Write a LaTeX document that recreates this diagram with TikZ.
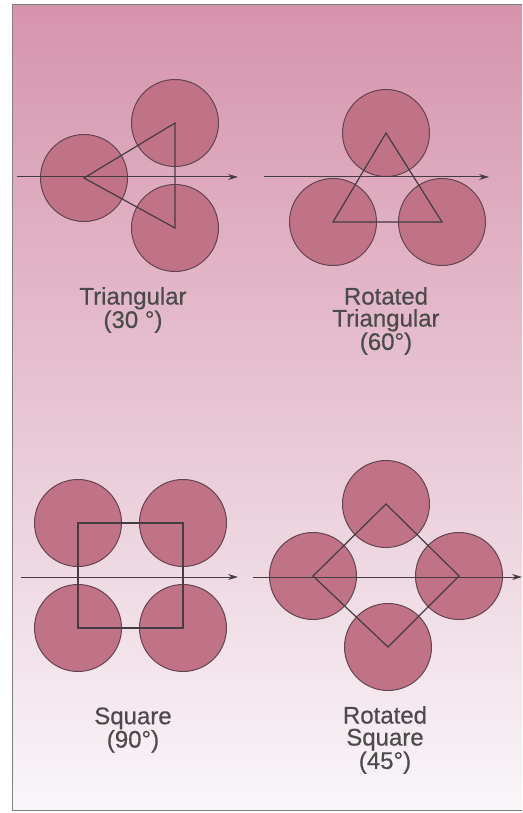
\documentclass[tikz,border=0pt]{standalone}
\usepackage{fontspec}
\setmainfont{Liberation Sans}
\newfontfamily\capfont[FakeBold=0.5]{Liberation Sans}
\usetikzlibrary{arrows.meta}
\definecolor{bgtop}{HTML}{D694AC}
\definecolor{bgmid}{HTML}{E6B8D0}
\definecolor{bgbot}{HTML}{F9F6F9}
\definecolor{disc}{HTML}{C07286}
\definecolor{discline}{HTML}{634452}
\definecolor{ink}{HTML}{453C44}
\definecolor{txt}{HTML}{4C4A4C}
\tikzset{
  ball/.style={circle, draw=discline, line width=1pt, fill=disc, minimum size=87pt, inner sep=0pt},
  shapeline/.style={draw=ink, line width=1.2pt, line join=miter},
  axis/.style={draw=ink, line width=1pt, -{Stealth[length=10pt,width=6pt]}},
  caption/.style={text=txt, align=center, font=\capfont\fontsize{24}{22}\selectfont, inner sep=0pt}
}
\begin{document}
\begin{tikzpicture}[x=1pt,y=-1pt]
\useasboundingbox (0,0) rectangle (522,813);
\fill[white] (0,0) rectangle (522,813);
\shade[top color=bgtop, middle color=bgmid, bottom color=bgbot] (12,5) rectangle (522,810);
\draw[gray, line width=1pt] (522,5) -- (12,5) -- (12,810) -- (522,810);

% Panel 1: Triangular
\node[ball] (a1) at (84,178) {};
\node[ball] (a2) at (175,123) {};
\node[ball] (a3) at (175,228) {};
\draw[shapeline] (a1.center) -- (a2.center) -- (a3.center) -- cycle;
\coordinate (p1s) at (17,177);
\coordinate (p1e) at (238,177);
\draw[axis] (p1s) -- (p1e);
\node[caption] (t1) at (133,310) {Triangular\\(30 °)};

% Panel 2: Rotated Triangular
\node[ball] (b1) at (386,133) {};
\node[ball] (b2) at (333,222) {};
\node[ball] (b3) at (442,222) {};
\draw[shapeline] (b1.center) -- (b2.center) -- (b3.center) -- cycle;
\coordinate (p2s) at (264,177);
\coordinate (p2e) at (489,177);
\draw[axis] (p2s) -- (p2e);
\node[caption] (t2) at (386,321) {Rotated\\Triangular\\(60°)};

% Panel 3: Square
\node[ball] (c1) at (78,523) {};
\node[ball] (c2) at (183,523) {};
\node[ball] (c3) at (183,628) {};
\node[ball] (c4) at (78,628) {};
\draw[shapeline] (c1.center) -- (c2.center) -- (c3.center) -- (c4.center) -- cycle;
\coordinate (p3s) at (21,577);
\coordinate (p3e) at (238,577);
\draw[axis] (p3s) -- (p3e);
\node[caption] (t3) at (133,730) {Square\\(90°)};

% Panel 4: Rotated Square
\node[ball] (d1) at (386,504) {};
\node[ball] (d2) at (459,576) {};
\node[ball] (d3) at (388,647) {};
\node[ball] (d4) at (313,576) {};
\draw[shapeline] (d1.center) -- (d2.center) -- (d3.center) -- (d4.center) -- cycle;
\coordinate (p4s) at (253,577);
\coordinate (p4e) at (522,577);
\draw[axis] (p4s) -- (p4e);
\node[caption] (t4) at (385,740) {Rotated\\Square\\(45°)};
\end{tikzpicture}
\end{document}
